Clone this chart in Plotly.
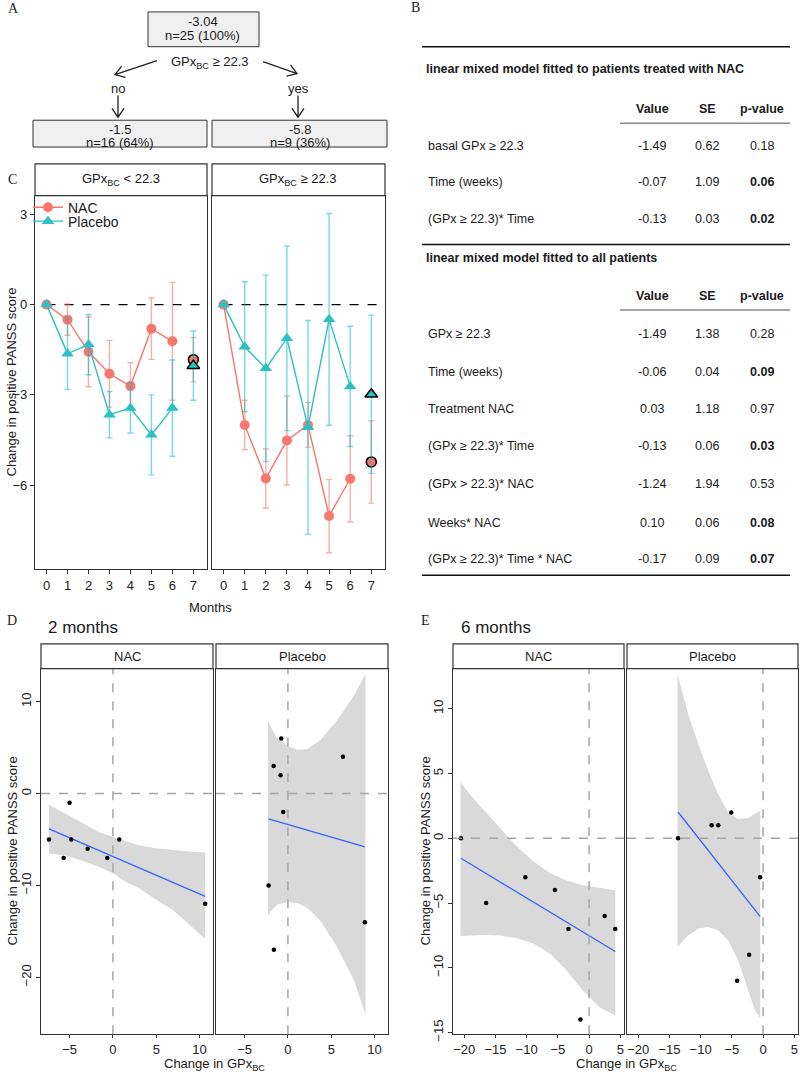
import math
import plotly.graph_objects as go

W, H = 800, 1081
FONT = "Liberation Sans, Arial, sans-serif"
SERIF = "Liberation Serif, Times New Roman, serif"

# ---------------- data ----------------
# panel A (regression tree)
tree_root = ["-3.04", "n=25 (100%)"]
tree_left = ["-1.5", "n=16 (64%)"]
tree_right = ["-5.8", "n=9 (36%)"]
tree_split = "GPx<sub>BC</sub> ≥ 22.3"

# panel B (tables)
tab_cols = ["Value", "SE", "p-value"]
nac_rows = ["basal GPx ≥ 22.3", "Time (weeks)", "(GPx ≥ 22.3)* Time"]
nac_value = ["-1.49", "-0.07", "-0.13"]
nac_se = ["0.62", "1.09", "0.03"]
nac_p = [0.18, 0.06, 0.02]
all_rows = ["GPx ≥ 22.3", "Time (weeks)", "Treatment NAC", "(GPx ≥ 22.3)* Time",
            "(GPx > 22.3)* NAC", "Weeks* NAC", "(GPx ≥ 22.3)* Time * NAC"]
all_value = ["-1.49", "-0.06", "0.03", "-0.13", "-1.24", "0.10", "-0.17"]
all_se = ["1.38", "0.04", "1.18", "0.06", "1.94", "0.06", "0.09"]
all_p = [0.28, 0.09, 0.97, 0.03, 0.53, 0.08, 0.07]

# panel C (change in positive PANSS by month)
months = [0, 1, 2, 3, 4, 5, 6, 7]
low_nac = [0, -0.5, -1.57, -2.3, -2.71, -0.8, -1.22, -1.83]
low_nac_se = [0, 0.52, 1.16, 1.11, 0.78, 1.02, 1.96, 0.74]
low_plc = [0, -1.63, -1.33, -3.66, -3.44, -4.33, -3.44, -2.03]
low_plc_se = [0, 1.19, 1.0, 0.77, 0.83, 1.33, 1.6, 1.15]
high_nac = [0, -4.0, -5.78, -4.52, -4.0, -7.03, -5.79, -5.23]
high_nac_se = [0, 0.82, 0.98, 1.48, 0.74, 1.22, 1.43, 1.37]
high_plc = [0, -1.4, -2.12, -1.12, -4.08, -0.49, -2.72, -2.98]
high_plc_se = [0, 2.16, 3.1, 3.07, 3.55, 3.52, 2.0, 2.63]

# panel D (2 months)
d_nac_x = [-7.38, -5.69, -5.0, -4.81, -2.92, -0.65, 0.73, 10.65]
d_nac_y = [-5, -7, -1, -5, -6, -7, -5, -12]
d_nac_fit = [-3.84, -11.18]
d_nac_rx = [-7.38, -5.46, -3.54, -1.62, 0, 1.46, 3.0, 4.92, 6.85, 8.77, 10.65]
d_nac_up = [-1.22, -2.22, -3.19, -4.19, -4.73, -5.2, -5.63, -5.95, -6.16, -6.31, -6.42]
d_nac_lo = [-6.52, -6.75, -7.3, -7.96, -8.67, -9.6, -10.29, -11.54, -12.62, -14.23, -15.84]

d_plc_x = [-2.23, -1.65, -1.62, -0.85, -0.77, -0.54, 6.35, 8.88]
d_plc_y = [-10, 3, -17, 2, 6, -2, 4, -14]
d_plc_fit = [-2.76, -5.81]
d_plc_rx = [-2.3, -2.0, -1.23, 0, 1.08, 2.23, 3.77, 5.69, 7.62, 8.95]
d_plc_up = [7.92, 7.28, 6.02, 5.2, 4.77, 4.84, 5.84, 7.99, 10.68, 13.01]
d_plc_lo = [-13.33, -12.8, -12.08, -11.79, -11.9, -12.44, -13.87, -16.74, -20.32, -24.09]

# panel E (6 months)
e_nac_x = [-20.53, -16.49, -10.21, -5.48, -3.3, -1.38, 2.5, 4.2]
e_nac_y = [0, -5, -3, -4, -7, -14, -6, -7]
e_nac_fit = [-1.54, -8.74]
e_nac_rx = [-20.6, -19.04, -16.91, -14.26, -11.6, -8.94, -6.28, -3.62, -0.96, 1.7, 4.2]
e_nac_up = [4.33, 3.36, 2.21, 0.79, -0.62, -1.77, -2.67, -3.26, -3.62, -3.82, -4.03]
e_nac_lo = [-7.54, -7.49, -7.46, -7.51, -7.72, -8.13, -8.9, -10.18, -11.77, -13.05, -13.69]

e_plc_x = [-13.62, -8.24, -7.18, -5.1, -4.15, -2.23, -0.48]
e_plc_y = [0, 1, 1, 2, -11, -9, -3]
e_plc_fit = [2.03, -6.03]
e_plc_rx = [-13.7, -13.03, -11.97, -10.37, -8.78, -7.18, -5.59, -3.99, -2.39, -1.33, -0.45]
e_plc_up = [12.64, 11.49, 9.56, 7.26, 5.21, 3.41, 2.0, 1.49, 1.56, 1.87, 2.13]
e_plc_lo = [-8.38, -8.0, -7.49, -6.97, -6.85, -7.1, -7.87, -9.41, -11.72, -13.26, -13.9]

NAC_COL = "#F8766D"
NAC_ERR = "rgba(248,118,109,0.6)"
PLC_COL = "#2CC0C4"
PLC_ERR = "rgba(0,191,196,0.55)"


def px(x):
    return x / W


def py(y):
    return 1 - y / H


fig = go.Figure()
annotations = []
shapes = []


def txt(x, y, s, size=13, bold=False, xanchor="center", angle=0, family=FONT, color="#1a1a1a"):
    if bold:
        s = "<b>" + s + "</b>"
    annotations.append(dict(x=px(x), y=py(y), xref="paper", yref="paper", text=s, showarrow=False,
                            xanchor=xanchor, yanchor="middle", textangle=angle,
                            font=dict(size=size, family=family, color=color)))


def arrow(x0, y0, x1, y1, head=9, half=6):
    # open V arrow drawn as a path in paper units
    dx, dy = x1 - x0, y1 - y0
    n = math.hypot(dx, dy)
    ux, uy = dx / n, dy / n
    bx, by = x1 - head * ux, y1 - head * uy
    w1 = (bx - half * uy, by + half * ux)
    w2 = (bx + half * uy, by - half * ux)
    p = "M %f,%f L %f,%f M %f,%f L %f,%f L %f,%f" % (
        px(x0), py(y0), px(x1), py(y1), px(w1[0]), py(w1[1]), px(x1), py(y1), px(w2[0]), py(w2[1]))
    shapes.append(dict(type="path", xref="paper", yref="paper", path=p,
                       line=dict(color="#222", width=1.3)))


def rect(x0, y0, x1, y1, fill="white", lw=1.2):
    shapes.append(dict(type="rect", xref="paper", yref="paper", x0=px(x0), x1=px(x1),
                       y0=py(y1), y1=py(y0), fillcolor=fill, line=dict(color="#333", width=lw),
                       layer="above"))


def hline(x0, x1, y, color="#111", width=1.5):
    shapes.append(dict(type="line", xref="paper", yref="paper", x0=px(x0), x1=px(x1),
                       y0=py(y), y1=py(y), line=dict(color=color, width=width)))


# ---------------- A ----------------
txt(13, 9, "A", 14, family=SERIF)
rect(148, 12, 259, 47, fill="#f0f0f0", lw=1)
txt(203, 22, tree_root[0])
txt(203, 36, tree_root[1])
txt(210, 63, tree_split)
arrow(157, 61, 115, 75)
arrow(263, 62, 297, 74)
txt(118, 89, "no")
txt(298, 89, "yes")
arrow(118, 96, 118, 118)
arrow(298, 96, 298, 118)
rect(33, 121, 207, 148, fill="#f0f0f0", lw=1)
rect(212, 121, 387, 148, fill="#f0f0f0", lw=1)
txt(120, 130, tree_left[0])
txt(120, 143, tree_left[1])
txt(300, 130, tree_right[0])
txt(300, 143, tree_right[1])

# ---------------- B ----------------
txt(415, 8, "B", 14, family=SERIF)
col_x = [652, 707, 762]


def table(title, title_y, head_y, row_y, rows, vals, ses, ps):
    txt(424, title_y, title, 12.5, bold=True, xanchor="left")
    for cx, c in zip(col_x, tab_cols):
        txt(cx, head_y, c, 12.5, bold=True)
    hline(620, 790, head_y + 14, color="#8a8a8a", width=1.5)
    for yy, r, v, s, p in zip(row_y, rows, vals, ses, ps):
        txt(426, yy, r, 12.5, xanchor="left")
        txt(col_x[0], yy, v, 12.5)
        txt(col_x[1], yy, s, 12.5)
        txt(col_x[2], yy, "%.2f" % p, 12.5, bold=p < 0.1)


hline(422, 790, 47)
table("linear mixed model fitted to patients treated with NAC", 69, 110,
      [147, 183, 220], nac_rows, nac_value, nac_se, nac_p)
hline(422, 790, 246)
table("linear mixed model fitted to all patients", 260, 298,
      [336, 374, 412, 449, 487, 526, 563], all_rows, all_value, all_se, all_p)
hline(422, 790, 579)

# ---------------- C ----------------
txt(12, 181, "C", 14, family=SERIF)


def course(mean, se, col, ecol, sym, size, name, xa, ya, legend):
    fig.add_trace(go.Scatter(
        x=months[:7], y=mean[:7], mode="lines+markers", name=name,
        showlegend=legend is not None, legend=legend or "legend",
        line=dict(color=col, width=1.4), marker=dict(color=col, size=size, symbol=sym),
        error_y=dict(type="data", array=se[:7], color=ecol, thickness=1.4, width=3),
        xaxis=xa, yaxis=ya))
    fig.add_trace(go.Scatter(
        x=months[7:], y=mean[7:], mode="markers", showlegend=False,
        marker=dict(color=col, size=size, symbol=sym, line=dict(color="black", width=1.5)),
        error_y=dict(type="data", array=se[7:], color=ecol, thickness=1.4, width=3),
        xaxis=xa, yaxis=ya))


for xa, ya in [("x", "y"), ("x2", "y2")]:
    fig.add_trace(go.Scatter(x=[0, 7.55], y=[0, 0], mode="lines", showlegend=False,
                             line=dict(color="black", width=1.2, dash="dash"), xaxis=xa, yaxis=ya))

course(low_nac, low_nac_se, NAC_COL, NAC_ERR, "circle", 10, "NAC", "x", "y", "legend")
course(low_plc, low_plc_se, PLC_COL, PLC_ERR, "triangle-up", 11, "Placebo", "x", "y", "legend2")
course(high_nac, high_nac_se, NAC_COL, NAC_ERR, "circle", 10, "NAC", "x2", "y2", None)
course(high_plc, high_plc_se, PLC_COL, PLC_ERR, "triangle-up", 11, "Placebo", "x2", "y2", None)

rect(35, 165, 207, 197)
rect(212, 165, 385, 197)
txt(121, 181, "GPx<sub>BC</sub> &lt; 22.3")
txt(298, 181, "GPx<sub>BC</sub> ≥ 22.3")
txt(12, 385, "Change in positive PANSS score", 13, angle=-90)
txt(210, 611, "Months", 13)


# ---------------- D / E ----------------
def scatter_panel(rx, up, lo, xs, ys, fit, xa, ya):
    fig.add_trace(go.Scatter(x=rx + rx[::-1], y=up + lo[::-1], fill="toself", fillcolor="#d9d9d9",
                             mode="lines", line=dict(width=0, color="#d9d9d9"), showlegend=False,
                             hoverinfo="skip", xaxis=xa, yaxis=ya))
    fig.add_trace(go.Scatter(x=[min(xs), max(xs)], y=fit, mode="lines", showlegend=False,
                             line=dict(color="#3366FF", width=1.3), xaxis=xa, yaxis=ya))
    fig.add_trace(go.Scatter(x=xs, y=ys, mode="markers", showlegend=False,
                             marker=dict(color="black", size=4.5), xaxis=xa, yaxis=ya))
    for ref in [(xa + " domain", ya, 0, 1, 0, 0), (xa, ya + " domain", 0, 0, 0, 1)]:
        shapes.append(dict(type="line", xref=ref[0], yref=ref[1], x0=ref[2], x1=ref[3],
                           y0=ref[4], y1=ref[5], line=dict(color="#a6a6a6", width=1.5, dash="dash"),
                           layer="above"))


scatter_panel(d_nac_rx, d_nac_up, d_nac_lo, d_nac_x, d_nac_y, d_nac_fit, "x3", "y3")
scatter_panel(d_plc_rx, d_plc_up, d_plc_lo, d_plc_x, d_plc_y, d_plc_fit, "x4", "y4")
scatter_panel(e_nac_rx, e_nac_up, e_nac_lo, e_nac_x, e_nac_y, e_nac_fit, "x5", "y5")
scatter_panel(e_plc_rx, e_plc_up, e_plc_lo, e_plc_x, e_plc_y, e_plc_fit, "x6", "y6")

txt(12, 625, "D", 14, family=SERIF)
txt(46, 632, "2 months", 17, xanchor="left")
rect(41, 648, 213, 673)
rect(216, 648, 388, 673)
txt(127, 661, "NAC")
txt(302, 661, "Placebo")
txt(12, 857, "Change in positive PANSS score", 13, angle=-90)
txt(214, 1071, "Change in GPx<sub>BC</sub>", 13)

txt(425, 625, "E", 14, family=SERIF)
txt(459, 632, "6 months", 17, xanchor="left")
rect(453, 648, 624, 673)
rect(627, 648, 798, 673)
txt(538, 661, "NAC")
txt(712, 661, "Placebo")
txt(425, 857, "Change in positive PANSS score", 13, angle=-90)
txt(626, 1071, "Change in GPx<sub>BC</sub>", 13)

# ---------------- axes ----------------
base = dict(showline=True, mirror=True, linecolor="#333", linewidth=1.2, ticks="outside",
            ticklen=4, tickwidth=1, tickcolor="#333", showgrid=False, zeroline=False,
            tickfont=dict(size=13, color="#222", family=FONT))


def ax(**kw):
    d = dict(base)
    d.update(kw)
    return d


c_y = [197, 573]
de_y = [673, 1041]
layout_axes = {
    "xaxis": ax(domain=[px(35), px(207)], range=[-0.55, 7.65], anchor="y", tickvals=months),
    "yaxis": ax(domain=[py(c_y[1]), py(c_y[0])], range=[-8.8, 3.62], anchor="x", tickvals=[3, 0, -3, -6]),
    "xaxis2": ax(domain=[px(212), px(385)], range=[-0.55, 7.65], anchor="y2", tickvals=months),
    "yaxis2": ax(domain=[py(c_y[1]), py(c_y[0])], range=[-8.8, 3.62], anchor="x2",
                 showticklabels=False, ticks=""),
    "xaxis3": ax(domain=[px(41), px(213)], range=[-8.3, 11.55], anchor="y3",
                 tickvals=[-5, 0, 5, 10], ticklen=3),
    "yaxis3": ax(domain=[py(de_y[1]), py(de_y[0])], range=[-26.2, 13.6], anchor="x3",
                 tickvals=[10, 0, -10, -20], tickangle=-90),
    "xaxis4": ax(domain=[px(216), px(388)], range=[-8.3, 11.55], anchor="y4",
                 tickvals=[-5, 0, 5, 10], ticklen=3),
    "yaxis4": ax(domain=[py(de_y[1]), py(de_y[0])], range=[-26.2, 13.6], anchor="x4",
                 showticklabels=False, ticks=""),
    "xaxis5": ax(domain=[px(453), px(624)], range=[-21.8, 5.6], anchor="y5",
                 tickvals=[-20, -15, -10, -5, 0, 5], ticklen=3),
    "yaxis5": ax(domain=[py(de_y[1]), py(de_y[0])], range=[-15.13, 13.1], anchor="x5",
                 tickvals=[10, 5, 0, -5, -10, -15], tickangle=-90),
    "xaxis6": ax(domain=[px(627), px(798)], range=[-21.8, 5.6], anchor="y6",
                 tickvals=[-20, -15, -10, -5, 0, 5], ticklen=3),
    "yaxis6": ax(domain=[py(de_y[1]), py(de_y[0])], range=[-15.13, 13.1], anchor="x6",
                 showticklabels=False, ticks=""),
}

leg = dict(xanchor="left", yanchor="middle", bgcolor="rgba(0,0,0,0)",
           font=dict(size=14, family=FONT), itemwidth=30, borderwidth=0)
fig.update_layout(
    width=W, height=H, margin=dict(l=0, r=0, t=0, b=0),
    paper_bgcolor="white", plot_bgcolor="white",
    font=dict(family=FONT, color="#1a1a1a"),
    legend=dict(leg, x=px(28), y=py(209)),
    legend2=dict(leg, x=px(28), y=py(223)),
    annotations=annotations, shapes=shapes,
    **layout_axes,
)

fig.write_html("out.html", config={"displayModeBar": False},
               post_script="document.body.style.margin='0px';")
